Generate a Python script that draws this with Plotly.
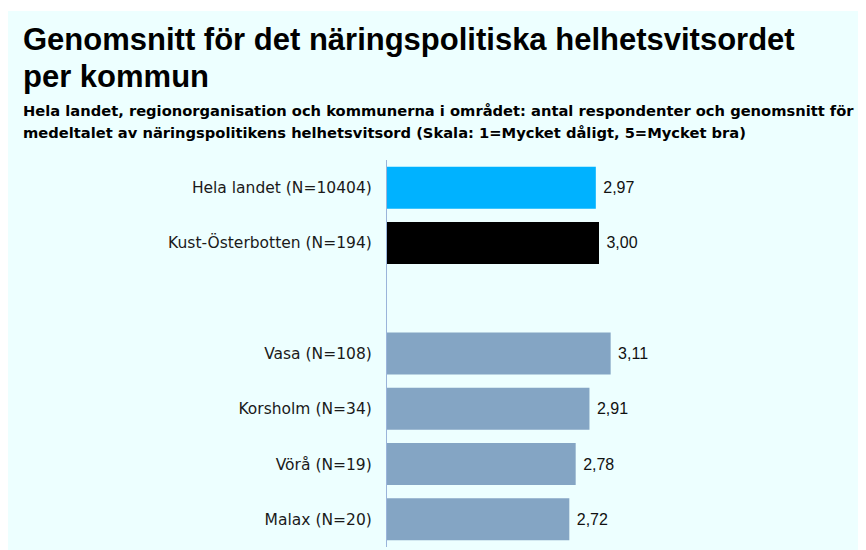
import plotly.graph_objects as go

categories = ["Hela landet (N=10404)", "Kust-Österbotten (N=194)", " ",
              "Vasa (N=108)", "Korsholm (N=34)", "Vörå (N=19)", "Malax (N=20)"]
values = [2.97, 3.00, None, 3.11, 2.91, 2.78, 2.72]
colors = ["#00B2FF", "#000000", "#84A5C4", "#84A5C4", "#84A5C4", "#84A5C4", "#84A5C4"]

title_lines = ["Genomsnitt för det näringspolitiska helhetsvitsordet", "per kommun"]
subtitle_lines = ["Hela landet, regionorganisation och kommunerna i området: antal respondenter och genomsnitt för",
                  "medeltalet av näringspolitikens helhetsvitsord (Skala: 1=Mycket dåligt, 5=Mycket bra)"]

# page offset of the figure (body margin)
OX, OY = 8, 8
W, H = 866, 550
L, T = 387 - OX, 160 - OY
PW = 424
PH = 547 - 160
R = W - L - PW
B = H - T - PH
BG = "#EDFFFF"
FONT = "Liberation Sans, Arial, sans-serif"
FONT2 = "DejaVu Sans, Verdana, sans-serif"


def px(x):  # screen x -> paper
    return (x - OX - L) / PW


def py(y):  # screen y -> paper
    return (H - B - (y - OY)) / PH


texts = [None if v is None else f"{v:.2f}".replace(".", ",") for v in values]

fig = go.Figure(go.Bar(
    y=categories, x=values, orientation="h",
    marker=dict(color=colors, line=dict(width=0)),
    text=texts, textposition="outside", cliponaxis=False,
    textfont=dict(family=FONT, size=16, color="#111111"),
    texttemplate=" %{text}",
    width=0.76,
))

fig.update_layout(
    width=W, height=H,
    margin=dict(l=L, r=R, t=T, b=B, pad=0),
    paper_bgcolor="white", plot_bgcolor=BG,
    showlegend=False,
    font=dict(family=FONT, color="#111111"),
    xaxis=dict(range=[1, 5], showgrid=False, zeroline=False, showticklabels=False,
               showline=False, fixedrange=True),
    yaxis=dict(categoryorder="array", categoryarray=categories, autorange="reversed",
               showgrid=False, zeroline=False, showline=True, linecolor="#9AB4DA",
               linewidth=1.2, ticks="", ticklabelstandoff=11,
               tickfont=dict(family=FONT2, size=15.5, color="#1a1a1a")),
    shapes=[dict(type="rect", xref="paper", yref="paper", layer="below",
                 x0=px(8), x1=px(W + 20), y0=py(H + 20), y1=py(11),
                 fillcolor=BG, line=dict(width=0))],
)

ann = []
title_y = [40, 76]
for t, y in zip(title_lines, title_y):
    ann.append(dict(text=f"<b>{t}</b>", x=px(21), y=py(y), xref="paper", yref="paper",
                    xanchor="left", yanchor="middle", showarrow=False,
                    font=dict(family=FONT, size=31, color="#000000")))
sub_y = [110, 132]
for t, y in zip(subtitle_lines, sub_y):
    ann.append(dict(text=f"<b>{t}</b>", x=px(21), y=py(y), xref="paper", yref="paper",
                    xanchor="left", yanchor="middle", showarrow=False,
                    font=dict(family=FONT2, size=14.7, color="#000000")))
fig.update_layout(annotations=ann)

fig.write_html("out.html")
